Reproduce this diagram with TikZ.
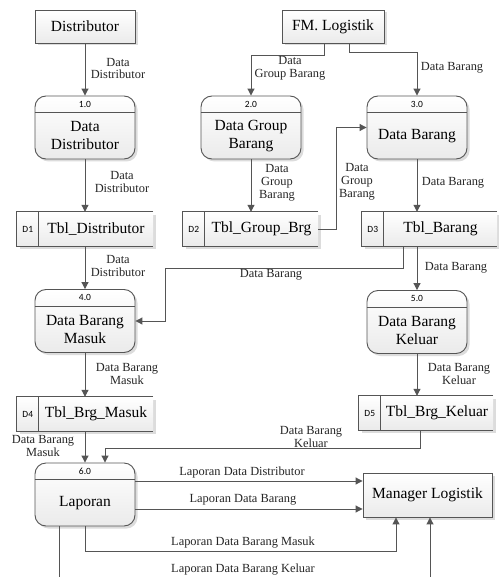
\documentclass[tikz,border=0pt]{standalone}
\usepackage{fontspec}
\setmainfont{Liberation Serif}
\newfontfamily\idfont{Carlito}
\usetikzlibrary{arrows.meta,shadows,calc}
\definecolor{lc}{HTML}{555555}
\tikzset{
 flow/.style={draw=lc, line width=1pt, -{Triangle[length=7pt,width=7pt]}},
 plain/.style={draw=lc, line width=1pt},
 boxshade/.style={top color=white, bottom color=gray!16, drop shadow={shadow xshift=2.5pt, shadow yshift=-2.5pt, fill=gray!45, opacity=0.6}},
 proc/.style={boxshade, draw=lc, line width=0.9pt, rounded corners=11pt, minimum width=100pt, minimum height=63pt, inner sep=0pt},
 ent/.style={boxshade, draw=lc, line width=0.9pt, minimum height=33pt, inner sep=0pt, font=\fontsize{15.5}{17}\selectfont},
 store/.style={boxshade, minimum height=34pt, inner sep=0pt},
 big/.style={font=\fontsize{15.5}{18}\selectfont, align=center, inner sep=0pt},
 idt/.style={font=\idfont\fontsize{9.5}{10}\selectfont, inner sep=0pt},
 lbl/.style={font=\fontsize{12.4}{12.8}\selectfont, align=center, inner sep=0pt, text=black!85},
}
\newcommand\mkproc[5]{%
 \node[proc] (#1) at (#2,#3) {};
 \draw[plain, line width=0.9pt] ([yshift=-17pt]#1.north west) -- ([yshift=-17pt]#1.north east);
 \node[idt] (#1id) at ([yshift=-8.5pt]#1.north) {#4};
 \node[big] (#1txt) at ([yshift=-8.5pt]#1.center) {#5};
}
\newcommand\mkstore[6]{%
 \node[store, minimum width=#4pt] (#1) at (#2,#3) {};
 \draw[plain, line width=0.9pt] (#1.north east) -- (#1.north west) -- (#1.south west) -- (#1.south east);
 \draw[plain, line width=0.9pt] ([xshift=22pt]#1.north west) -- ([xshift=22pt]#1.south west);
 \node[idt] (#1id) at ($(#1.west)+(11pt,0)$) {#5};
 \node[big] (#1txt) at ($([xshift=22pt]#1.west)!0.5!(#1.east)$) {#6};
}
\begin{document}
\begin{tikzpicture}[x=1pt,y=-1pt]
\useasboundingbox[fill=white] (0,0) rectangle (498,577);
% entities
\node[ent, minimum width=100pt] (dist) at (85,26.5) {Distributor};
\node[ent, minimum width=102pt] (fm) at (333,26.5) {FM. Logistik};
\node[ent, minimum width=129pt, minimum height=44pt] (mgr) at (427.5,495) {Manager Logistik};
% processes
\mkproc{p1}{85}{127.5}{1.0}{Data\\Distributor}
\mkproc{p2}{251}{127.5}{2.0}{Data Group\\Barang}
\mkproc{p3}{417}{127.5}{3.0}{Data Barang}
\mkproc{p4}{85}{321}{4.0}{Data Barang\\Masuk}
\mkproc{p5}{417}{322}{5.0}{Data Barang\\Keluar}
\mkproc{p6}{85}{494.5}{6.0}{Laporan}
% stores
\mkstore{d1}{85}{229}{136}{D1}{Tbl\_Distributor}
\mkstore{d2}{250.5}{229}{135}{D2}{Tbl\_Group\_Brg}
\mkstore{d3}{429.5}{229}{135}{D3}{Tbl\_Barang}
\mkstore{d4}{85}{414}{136}{D4}{Tbl\_Brg\_Masuk}
\mkstore{d5}{426}{413}{134}{D5}{Tbl\_Brg\_Keluar}
% flows
\draw[flow] (dist) -- (p1);
\draw[flow] (p1) -- (d1);
\draw[flow] (d1) -- (p4);
\draw[flow] (p4) -- (d4);
\draw[flow] (d4) -- (p6);
\draw[flow] ([xshift=-9pt]fm.south) -- ++(0,12) -| (p2.north);
\draw[flow] ([xshift=16pt]fm.south) -- ++(0,9) -| (p3.north);
\draw[flow] (p2) -- (p2 |- d2.north);
\draw[flow] (d2.east) -- ++(18,0) |- (p3.west);
\draw[flow] (p3) -- (p3 |- d3.north);
\coordinate (c1) at (165,268);
\draw[flow] ([xshift=-26.5pt]d3.south) |- (c1) |- (p4.east);
\draw[flow] (p5 |- d3.south) -- (p5);
\draw[flow] (p5) -- (p5 |- d5.north);
\draw[flow] ([xshift=-6pt]d5.south) -- ++(0,18) -| ([xshift=20pt]p6.north);
\draw[flow] ([yshift=13.5pt]p6.east) -- ([yshift=13.5pt]p6.east -| mgr.west);
\draw[flow] ([yshift=-14.5pt]p6.east) -- ([yshift=-14.5pt]p6.east -| mgr.west);
\draw[flow] (p6.south) -- ++(0,25) -| ([xshift=-31.5pt]mgr.south);
\coordinate (kb1) at (59,577);
\coordinate (kb2) at (430,577);
\draw[plain] ([xshift=-26pt]p6.south) -- (kb1);
\draw[flow] (kb2) -- ([xshift=2.5pt]mgr.south);
% labels
\node[lbl] (l1) at (118,68.5) {Data\\Distributor};
\node[lbl] (l2) at (122,182) {Data\\Distributor};
\node[lbl] (l3) at (118,266) {Data\\Distributor};
\node[lbl] (l4) at (127,374) {Data Barang\\Masuk};
\node[lbl] (l5) at (43,446) {Data Barang\\Masuk};
\node[lbl] (l6) at (290,68.5) {Data\\Group Barang};
\node[lbl] (l7) at (452,68) {Data Barang};
\node[lbl] (l8) at (277,183) {Data\\Group\\Barang};
\node[lbl] (l9) at (357,182) {Data\\Group\\Barang};
\node[lbl] (l10) at (453,183) {Data Barang};
\node[lbl] (l11) at (271,275) {Data Barang};
\node[lbl] (l12) at (456,268) {Data Barang};
\node[lbl] (l13) at (459,374) {Data Barang\\Keluar};
\node[lbl] (l14) at (311,437) {Data Barang\\Keluar};
\node[lbl] (l15) at (242,473) {Laporan Data Distributor};
\node[lbl] (l16) at (243,500) {Laporan Data Barang};
\node[lbl] (l17) at (243,543) {Laporan Data Barang Masuk};
\node[lbl] (l18) at (243,570) {Laporan Data Barang Keluar};
\end{tikzpicture}
\end{document}
